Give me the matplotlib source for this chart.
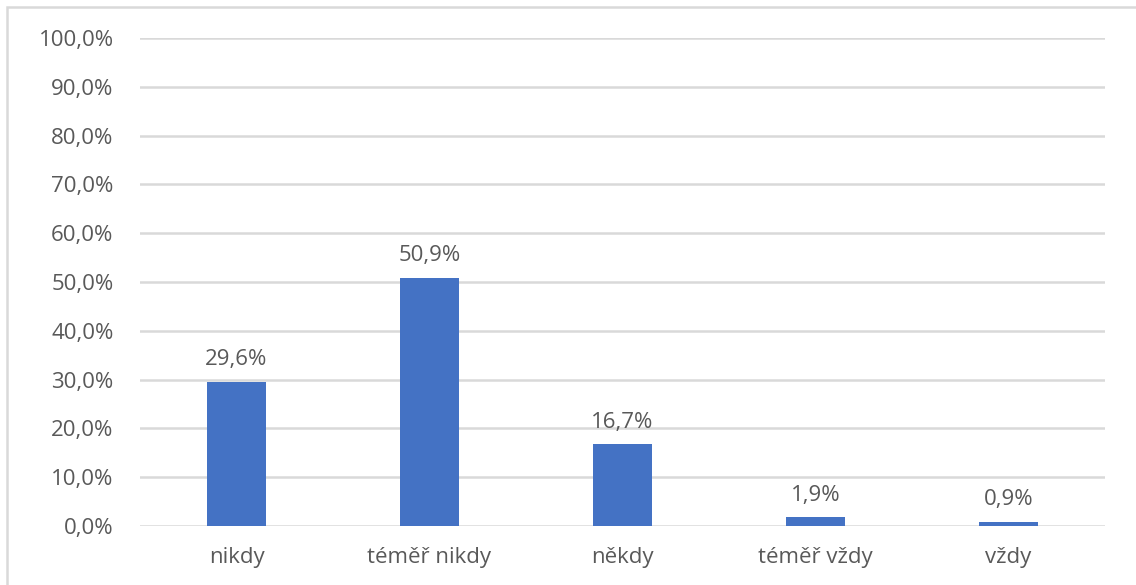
import matplotlib.pyplot as plt
from matplotlib.ticker import FuncFormatter
from matplotlib.patches import Rectangle

categories = ["nikdy", "téměř nikdy", "někdy", "téměř vždy", "vždy"]
values = [29.6, 50.9, 16.7, 1.9, 0.9]

plt.rcParams['font.family'] = ['Open Sans', 'DejaVu Sans']
text_color = '#595959'

fig = plt.figure(figsize=(11.36, 5.85), dpi=100)
ax = fig.add_axes([0.1232, 0.1009, 0.8495, 0.8341])

x = range(len(categories))
ax.bar(x, values, width=0.31, color='#4472C4', zorder=3)

for xi, v in zip(x, values):
    ax.annotate(f"{v:.1f}%".replace('.', ','), (xi, v), xytext=(0, 8),
                textcoords='offset points', ha='center', va='bottom',
                fontsize=16, color=text_color)

ax.set_xlim(-0.5, len(categories) - 0.5)
ax.set_ylim(0, 100)
ax.set_yticks(range(0, 101, 10))
ax.yaxis.set_major_formatter(FuncFormatter(lambda v, p: f"{v:.1f}%".replace('.', ',')))
ax.set_xticks(list(x))
ax.set_xticklabels(categories)
ax.tick_params(axis='both', length=0, labelsize=16, colors=text_color)
ax.tick_params(axis='x', pad=15)
ax.tick_params(axis='y', pad=19)

ax.grid(axis='y', color='#D9D9D9', linewidth=1.8, zorder=0)
for s in ax.spines.values():
    s.set_visible(False)

# chart border (cropped: only top and left visible)
fig.patches.append(Rectangle((7 / 1136, -0.1), 1.2, 1 - 7 / 585 + 0.1,
                             transform=fig.transFigure, fill=False,
                             edgecolor='#D9D9D9', linewidth=1.8))

fig.savefig('out.png', dpi=100)
